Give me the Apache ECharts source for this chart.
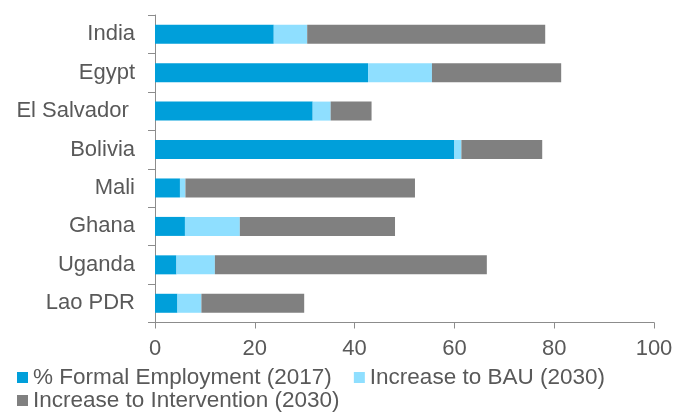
<!DOCTYPE html>
<html>
<head>
<meta charset="utf-8">
<script src="https://cdn.jsdelivr.net/npm/echarts@6/dist/echarts.min.js"></script>
<style>
html,body{margin:0;padding:0;background:#fff;}
#c{width:685px;height:412px;}
</style>
</head>
<body>
<div id="c"></div>
<script>
var categories = ["India", "Egypt", "El Salvador ", "Bolivia", "Mali", "Ghana", "Uganda", "Lao PDR"];
var formal2017 = [23.8, 42.7, 31.6, 60.0, 5.0, 6.0, 4.3, 4.5];
var increaseBAU = [6.7, 12.8, 3.6, 1.4, 1.1, 11.0, 7.7, 4.8];
var increaseIntervention = [47.7, 25.9, 8.2, 16.2, 46.0, 31.1, 54.5, 20.6];
var xTicks = [0, 20, 40, 60, 80, 100];
var seriesNames = ["% Formal Employment (2017)", "Increase to BAU (2030)", "Increase to Intervention (2030)"];

var textColor = "#595959";
var axisColor = "#8c8c8c";
var font = "Liberation Sans, Arial, sans-serif";

var chart = echarts.init(document.getElementById("c"), null, {renderer: "canvas"});
chart.setOption({
  animation: false,
  textStyle: {fontFamily: font},
  grid: {left: 155, right: 31, top: 15, bottom: 89.5, containLabel: false},
  legend: [
    {
      data: [seriesNames[0], seriesNames[1]],
      left: 17, top: 366,
      icon: "rect", itemWidth: 11, itemHeight: 11, itemGap: 22,
      padding: 0,
      textStyle: {color: textColor, fontSize: 22.5, fontFamily: font}
    },
    {
      data: [seriesNames[2]],
      left: 17, top: 389,
      icon: "rect", itemWidth: 11, itemHeight: 11,
      padding: 0,
      textStyle: {color: textColor, fontSize: 22.5, fontFamily: font}
    }
  ],
  xAxis: {
    type: "value",
    min: xTicks[0], max: xTicks[xTicks.length - 1], interval: 20,
    axisLine: {show: true, lineStyle: {color: axisColor, width: 1}},
    axisTick: {show: true, length: 6, lineStyle: {color: axisColor}},
    splitLine: {show: false},
    axisLabel: {color: textColor, fontSize: 22, margin: 15, fontFamily: font}
  },
  yAxis: {
    type: "category",
    data: categories,
    inverse: true,
    axisLine: {show: true, lineStyle: {color: axisColor, width: 1}},
    axisTick: {show: true, length: 7, alignWithLabel: false, lineStyle: {color: axisColor}},
    axisLabel: {color: textColor, fontSize: 22, margin: 20, fontFamily: font}
  },
  series: [
    {name: seriesNames[0], type: "bar", stack: "t", data: formal2017, barWidth: 19,
     itemStyle: {color: "#009FDA"}},
    {name: seriesNames[1], type: "bar", stack: "t", data: increaseBAU, barWidth: 19,
     itemStyle: {color: "#8FDFFF"}},
    {name: seriesNames[2], type: "bar", stack: "t", data: increaseIntervention, barWidth: 19,
     itemStyle: {color: "#808080"}}
  ]
});
</script>
</body>
</html>
